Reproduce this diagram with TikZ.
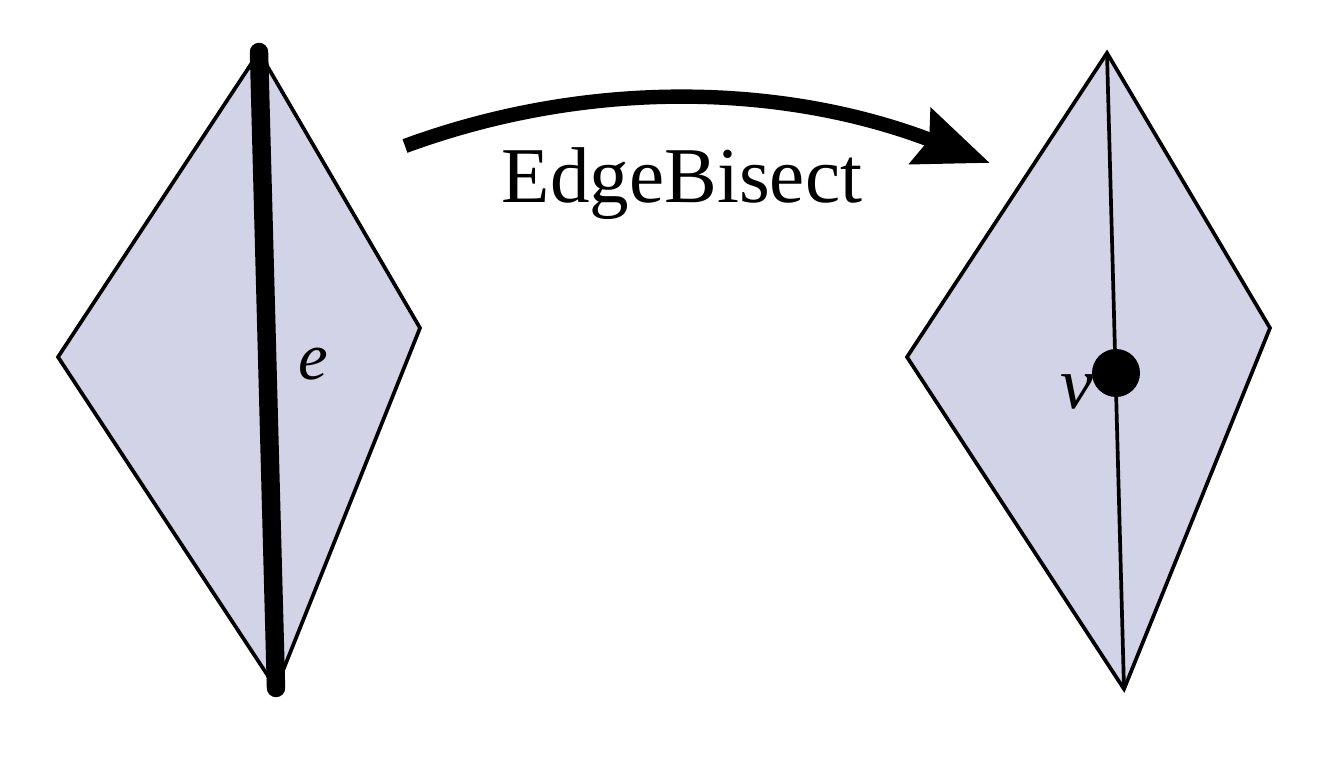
\documentclass[tikz,border=0pt]{standalone}
\usepackage{fontspec}
\setmainfont{Liberation Serif}
\usetikzlibrary{arrows.meta}
\definecolor{face}{HTML}{D2D3E6}

\begin{document}
\begin{tikzpicture}[x=0.02cm,y=-0.02cm,
 tri/.style={draw=black,fill=face,line width=2.1pt,line join=miter},
 edg/.style={draw=black,line width=2.1pt},
 heavy/.style={draw=black,line width=10.5pt,line cap=round},
 dot/.style={circle,fill=black,inner sep=0pt,minimum size=0.96cm},
 lbl/.style={font=\fontsize{38}{40}\selectfont\itshape,inner sep=0pt},
 arr/.style={-{Stealth[length=42pt,width=33pt,inset=5pt]},draw=black,line width=8.2pt}]
\useasboundingbox (0,0) rectangle (1336,764);
% before: two triangles sharing e
\coordinate (lt) at (259,52);
\coordinate (ll) at (58,357);
\coordinate (lb) at (276,688);
\coordinate (lr) at (420,328);
\draw[tri] (lt)--(ll)--(lb)--(lr)--cycle;
\draw[heavy] (lt)--(lb);
\node[lbl] (e) at (313,364) {e};
% after: e split at v
\coordinate (rt) at (1107,53);
\coordinate (rl) at (907,357);
\coordinate (rb) at (1124,689);
\coordinate (rr) at (1270,328);
\draw[tri] (rt)--(rl)--(rb)--(rr)--cycle;
\draw[edg] (rt)--(rb);
\node[dot] (v) at (1116,373) {};
\node[lbl,font=\fontsize{42}{44}\selectfont\itshape] (vl) at (1077,392) {v};
% the move
\coordinate (from) at (405,146);
\coordinate (to) at (990,163);
\draw[arr] (from) .. controls (590,78) and (785,84) .. (to);
\node[font=\fontsize{45}{50}\selectfont,anchor=base] (name) at (682,202) {EdgeBisect};
\end{tikzpicture}
\end{document}
